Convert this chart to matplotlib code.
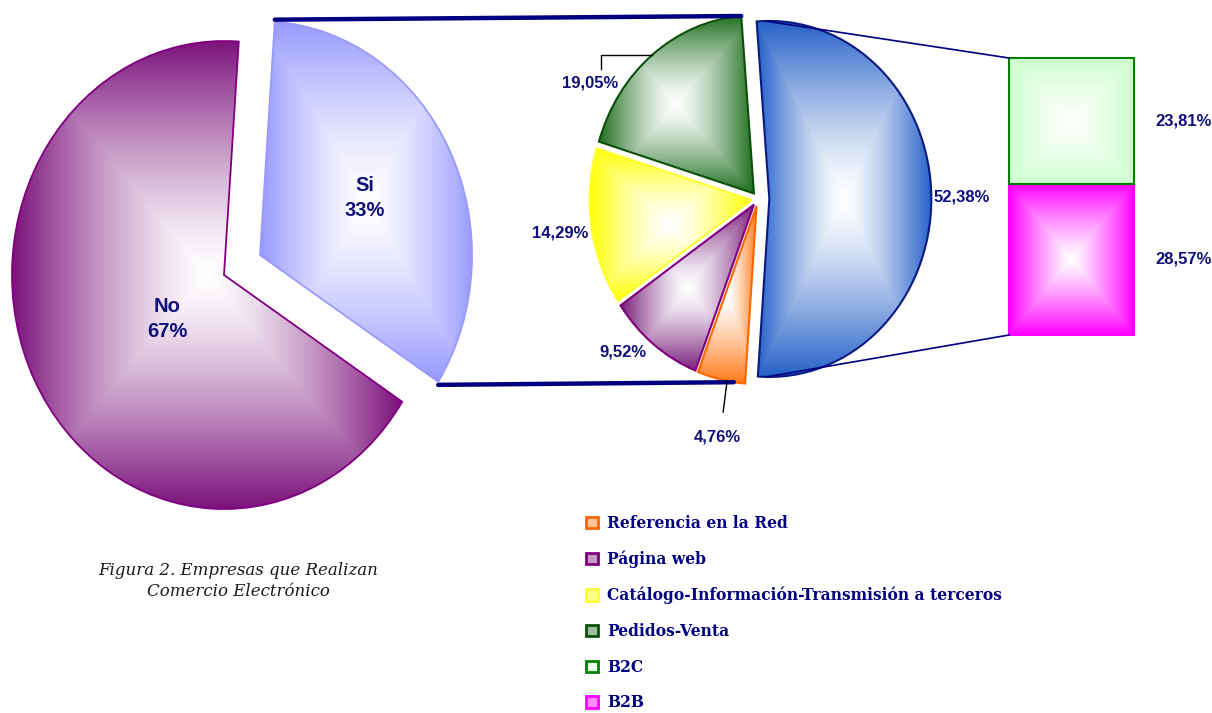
import numpy as np
import matplotlib
matplotlib.use('Agg')
import matplotlib.pyplot as plt
from matplotlib.patches import Patch

W, H = 1212, 713

# data
main_labels = ['Si', 'No']
main_values = [33, 67]
sub_labels = ['B2C + B2B', 'Referencia en la Red', 'Página web',
              'Catálogo-Información-Transmisión a terceros', 'Pedidos-Venta']
sub_values = [52.38, 4.76, 9.52, 14.29, 19.05]
bar_labels = ['B2B', 'B2C']
bar_values = [28.57, 23.81]

# styles
main_colors = ['#9999FF', '#7A0F7A']
main_edges = ['#9999FF', '#800080']
sub_colors = ['#2460C8', '#FF7A1A', '#7A1F7A', '#FFFF00', '#1F6F1F']
sub_edges = ['#0A1A80', '#FF6600', '#800080', '#FFFF33', '#0B4F0B']
bar_colors = ['#FF00FF', '#CCFFCC']
bar_edges = ['#FF00FF', '#008000']
navy = '#10107A'


def pct(v):
    return ('%.2f' % v).replace('.', ',') + '%'


def pie_axes(fig, cx, cy, rx, ry, pad=1.3):
    # axes where one data unit is rx px wide and ry px tall (pies are slightly squashed)
    ax = fig.add_axes([(cx - pad * rx) / W, (H - cy - pad * ry) / H,
                       2 * pad * rx / W, 2 * pad * ry / H])
    return ax


def finish(ax, pad=1.3):
    ax.set_xlim(-pad, pad)
    ax.set_ylim(-pad, pad)
    ax.set_aspect('auto')
    ax.axis('off')


def shade(ax, patch, color, power=1.35):
    # "from centre" gradient: white in the middle, full colour at the box edges
    pts = patch.get_patch_transform().transform(patch.get_path().vertices)
    x0, y0 = pts.min(axis=0)
    x1, y1 = pts.max(axis=0)
    n = 200
    u = np.linspace(-1, 1, n)
    t = np.maximum(np.abs(u)[None, :], np.abs(u)[:, None]) ** power
    c = np.array(matplotlib.colors.to_rgb(color))
    rgb = 1 - (1 - c)[None, None, :] * t[:, :, None]
    im = ax.imshow(rgb, extent=(x0, x1, y0, y1), aspect='auto', zorder=1,
                   interpolation='bilinear', clip_on=True)
    im.set_clip_path(patch)
    patch.set_facecolor('none')
    patch.set_zorder(2)


def arc_point(ax, w, theta):
    a = np.deg2rad(theta)
    X, Y = ax.transData.transform((w.center[0] + w.r * np.cos(a),
                                   w.center[1] + w.r * np.sin(a)))
    return X, H - Y


fig = plt.figure(figsize=(W / 100, H / 100), dpi=100)

# big pie
ax1 = pie_axes(fig, 224, 275, 212, 234)
w1, _ = ax1.pie(main_values, startangle=86, counterclock=False, explode=[0.19, 0],
                colors=main_colors, wedgeprops=dict(linewidth=1.3))
for w, c, e in zip(w1, main_colors, main_edges):
    w.set_edgecolor(e)
    shade(ax1, w, c)
finish(ax1)

# second pie
ax2 = pie_axes(fig, 758, 199, 162, 178)
w2, _ = ax2.pie(sub_values, startangle=94.5, counterclock=False,
                explode=[0.07, 0.04, 0.04, 0.04, 0.04],
                colors=sub_colors, wedgeprops=dict(linewidth=1.5))
for w, c, e in zip(w2, sub_colors, sub_edges):
    w.set_edgecolor(e)
    shade(ax2, w, c)
finish(ax2)

# stacked bar
ax3 = fig.add_axes([1009 / W, (H - 335) / H, 125 / W, 277 / H])
bottoms = np.concatenate([[0], np.cumsum(bar_values)[:-1]])
bars = ax3.bar([0] * len(bar_values), bar_values, bottom=bottoms, width=1,
               color=bar_colors, linewidth=1.5, clip_on=False)
for b, c, e in zip(bars, bar_colors, bar_edges):
    b.set_edgecolor(e)
    shade(ax3, b, c, power=1.2)
ax3.set_xlim(-0.5, 0.5)
ax3.set_ylim(0, sum(bar_values))
ax3.axis('off')
for b, v in zip(bars, bar_values):
    ax3.text(0.9, b.get_y() + v / 2, pct(v), ha='center', va='center',
             fontsize=12, fontweight='bold', color=navy, family='Liberation Sans',
             clip_on=False)

# overlay in pixel coordinates
ov = fig.add_axes([0, 0, 1, 1])
ov.set_xlim(0, W)
ov.set_ylim(H, 0)
ov.axis('off')

si, no = w1
blue, orange, purple, yellow, green = w2
p_a = arc_point(ax1, si, si.theta2)
p_b = arc_point(ax2, green, green.theta1)
ov.plot([p_a[0], p_b[0]], [p_a[1] - 2, p_b[1]], color='#000080', lw=3.2,
        solid_capstyle='round')
p_a = arc_point(ax1, si, si.theta1)
p_b = arc_point(ax2, orange, orange.theta2 - 4)
ov.plot([p_a[0], p_b[0]], [p_a[1] + 3, p_b[1]], color='#000080', lw=3.2,
        solid_capstyle='round')


def bar_corner(x, y):
    X, Y = ax3.transData.transform((x, y))
    return X, H - Y


top = sum(bar_values)
p_a = arc_point(ax2, blue, blue.theta2 - 3)
p_b = bar_corner(-0.5, top)
ov.plot([p_a[0], p_b[0]], [p_a[1], p_b[1]], color='#000080', lw=1.2)
p_a = arc_point(ax2, blue, blue.theta1 + 3)
p_b = bar_corner(-0.5, 0)
ov.plot([p_a[0], p_b[0]], [p_a[1], p_b[1]], color='#000080', lw=1.2)

# leader lines
g = arc_point(ax2, green, (green.theta1 + green.theta2) / 2)
ov.plot([g[0], 601, 601], [g[1], g[1], g[1] + 14], color='black', lw=1)
o = arc_point(ax2, orange, (orange.theta1 + orange.theta2) / 2)
ov.plot([o[0] + 6, o[0] + 2], [o[1] + 1, 412], color='black', lw=1)

# slice labels
lab_font = dict(fontweight='bold', color=navy, family='Liberation Sans',
                ha='center', va='center')
sub_pos = [(962, 197), (717, 437), (623, 352), (560, 233), (590, 83)]
for v, (x, y) in zip(sub_values, sub_pos):
    ov.text(x, y, pct(v), fontsize=12, **lab_font)
main_pos = [(365, 198), (167, 319)]
for lab, v, (x, y) in zip(main_labels, main_values, main_pos):
    ov.text(x, y, '%s\n%d%%' % (lab, v), fontsize=14.5, linespacing=1.45, **lab_font)

# caption
ov.text(238, 581, 'Figura 2. Empresas que Realizan\nComercio Electrónico',
        ha='center', va='center', fontsize=12, style='italic', family='DejaVu Serif',
        color='#1a1a1a', linespacing=1.3)

# legend
leg_labels = sub_labels[1:] + bar_labels[::-1]
leg_cols = sub_colors[1:] + bar_colors[::-1]
leg_edges = sub_edges[1:] + bar_edges[::-1]
handles = []
for c, e in zip(leg_cols, leg_edges):
    rgb = np.array(matplotlib.colors.to_rgb(c))
    face = 1 - (1 - rgb) * 0.45
    handles.append(Patch(facecolor=face, edgecolor=e, linewidth=2))
fig.legend(handles, leg_labels, loc='upper left', bbox_to_anchor=(586 / W, 1 - 515 / H),
           frameon=False, handlelength=0.75, handleheight=0.75, handletextpad=0.6,
           labelspacing=1.2, borderpad=0, borderaxespad=0, labelcolor='#000080',
           prop=dict(family='DejaVu Serif', weight='bold', size=11.2))

fig.savefig('out.png', dpi=100)
